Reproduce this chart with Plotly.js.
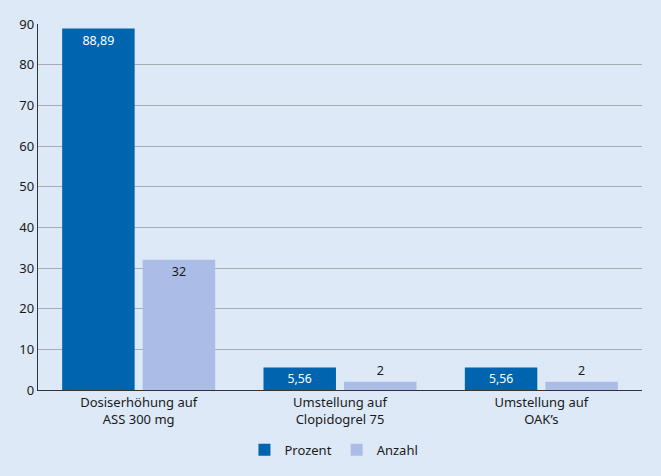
<!DOCTYPE html>
<html><head><meta charset="utf-8">
<script src="https://cdn.plot.ly/plotly-3.0.1.min.js"></script>
<style>html,body{margin:0;padding:0;background:#dde9f7;}#chart{width:661px;height:476px;}</style>
</head><body><div id="chart"></div>
<script>
var categories = ["Dosiserhöhung auf<br>ASS 300 mg", "Umstellung auf<br>Clopidogrel 75", "Umstellung auf<br>OAK’s"];
var prozent = [88.89, 5.56, 5.56];
var anzahl = [32, 2, 2];
var yTicks = [0, 10, 20, 30, 40, 50, 60, 70, 80, 90];

var font = "Noto Sans, Open Sans, sans-serif";
var traces = [
  {type: "bar", name: "Prozent", x: categories, y: prozent,
   marker: {color: "#0064ae"},
   texttemplate: "%{y:.2f}", textposition: "inside", insidetextanchor: "end",
   insidetextfont: {color: "#ffffff", size: 12.5, family: font},
   hoverinfo: "none"},
  {type: "bar", name: "Anzahl", x: categories, y: anzahl,
   marker: {color: "#abbde7"},
   texttemplate: "%{y}", textposition: ["inside", "outside", "outside"], insidetextanchor: "end",
   insidetextfont: {color: "#1a1a1a", size: 12.5, family: font},
   outsidetextfont: {color: "#1a1a1a", size: 12.5, family: font},
   cliponaxis: false,
   hoverinfo: "none"}
];
var layout = {
  width: 661, height: 476,
  paper_bgcolor: "#dde9f7", plot_bgcolor: "#dde9f7",
  margin: {l: 38, r: 19, t: 24, b: 85},
  separators: ",.",
  barmode: "group", bargap: 0.2, bargroupgap: 0.1,
  font: {family: font, size: 13, color: "#1a1a1a"},
  showlegend: true,
  legend: {orientation: "h", x: 0.49, xanchor: "center", y: -0.16, yanchor: "middle",
           font: {size: 13, color: "#1a1a1a"}, bgcolor: "rgba(0,0,0,0)"},
  xaxis: {showline: true, linecolor: "#333333", linewidth: 1.2, ticks: "", tickfont: {size: 13}, fixedrange: true},
  yaxis: {range: [0, 90], tickvals: yTicks, showgrid: true, gridcolor: "#a8adb3", gridwidth: 1,
          showline: true, linecolor: "#333333", linewidth: 1.2, ticks: "", zeroline: false,
          tickfont: {size: 13}, fixedrange: true}
};
Plotly.newPlot("chart", traces, layout, {displayModeBar: false, staticPlot: true});
</script></body></html>
